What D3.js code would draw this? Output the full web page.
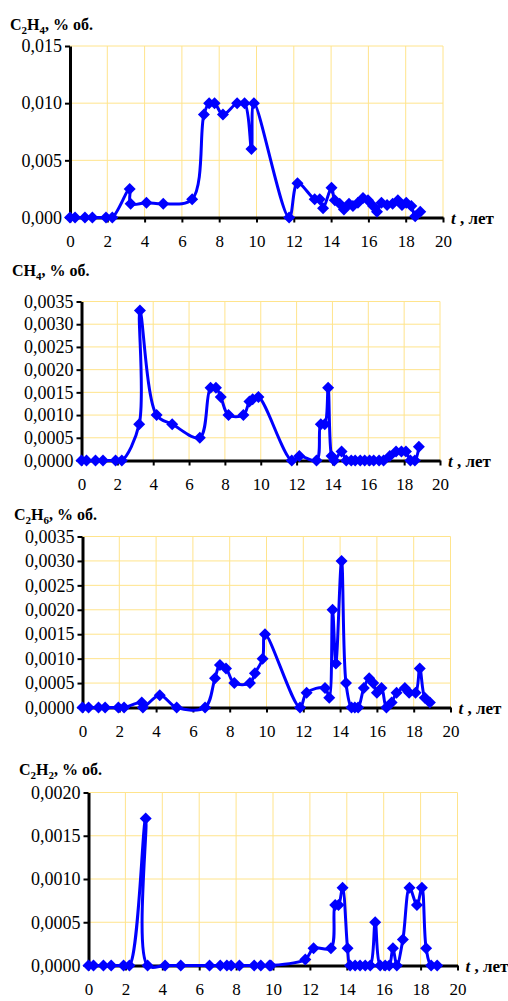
<!DOCTYPE html>
<html>
<head>
<meta charset="utf-8">
<script src="https://cdn.jsdelivr.net/npm/d3@7"></script>
<style>
  html, body { margin: 0; padding: 0; background: #fff; }
  svg { display: block; }
</style>
</head>
<body>
<div id="chart"></div>
<script>
// ---- данные (t, лет ; концентрация, % об.) ----
const xTicks = [0, 2, 4, 6, 8, 10, 12, 14, 16, 18, 20];

const tC2H4 = [0, 0.27, 0.8, 1.2, 1.93, 2.27, 3.2, 3.25, 4.1, 5.0, 6.55, 7.18, 7.46, 7.75, 8.2, 8.96, 9.36, 9.73, 9.86,
  11.75, 12.2, 13.12, 13.39, 13.57, 14.02, 14.2, 14.46, 14.69, 14.96, 15.17, 15.44, 15.71, 15.98, 16.25, 16.46, 16.7,
  17.0, 17.3, 17.58, 17.8, 18.03, 18.3, 18.51, 18.78];
const vC2H4 = [0, 0, 0, 0, 0, 0, 0.0025, 0.0012, 0.0013, 0.0012, 0.0016, 0.009, 0.010, 0.010, 0.009, 0.010, 0.010, 0.006, 0.010,
  0, 0.003, 0.0016, 0.0016, 0.0008, 0.0026, 0.0015, 0.0012, 0.0007, 0.0012, 0.001, 0.0013, 0.0017, 0.0015, 0.001, 0.0005, 0.0013,
  0.0011, 0.0012, 0.0015, 0.0011, 0.0013, 0.001, 0.0001, 0.0005];
const yTicksC2H4 = [0, 0.005, 0.010, 0.015];

const tCH4 = [0, 0.28, 0.78, 1.2, 1.9, 2.25, 3.22, 3.26, 4.19, 5.06, 6.6, 7.2, 7.5, 7.77, 8.2, 9.03, 9.37, 9.55, 9.87,
  11.73, 12.15, 13.11, 13.35, 13.57, 13.76, 13.95, 14.1, 14.51, 14.77, 15.05, 15.27, 15.55, 15.8, 16.07, 16.3, 16.6, 16.85,
  17.2, 17.55, 17.85, 18.1, 18.35, 18.6, 18.82];
const vCH4 = [0, 0, 0, 0, 0, 0, 0.0008, 0.0033, 0.001, 0.0008, 0.0005, 0.0016, 0.0016, 0.0014, 0.001, 0.001, 0.0013, 0.00135, 0.0014,
  0, 0.0001, 0, 0.0008, 0.0008, 0.0016, 0.0001, 0, 0.0002, 0, 0, 0, 0, 0, 0, 0, 0, 0,
  0.0001, 0.0002, 0.0002, 0.0002, 0, 0, 0.0003];
const yTicksCH4 = [0, 0.0005, 0.0010, 0.0015, 0.0020, 0.0025, 0.0030, 0.0035];

const tC2H6 = [0, 0.33, 0.87, 1.23, 1.95, 2.26, 3.22, 3.28, 4.2, 5.12, 6.66, 7.2, 7.47, 7.8, 8.25, 9.1, 9.37, 9.79, 9.92,
  11.82, 12.18, 13.18, 13.41, 13.59, 13.77, 14.08, 14.32, 14.62, 14.8, 14.98, 15.29, 15.58, 15.8, 16.0, 16.25,
  16.52, 16.8, 17.07, 17.52, 17.75, 18.1, 18.33, 18.6, 18.88];
const vC2H6 = [0, 0, 0, 0, 0, 0, 0.0001, 0, 0.00025, 0, 0, 0.0006, 0.00087, 0.0008, 0.0005, 0.0005, 0.0007, 0.001, 0.0015,
  0, 0.0003, 0.0004, 0.0002, 0.002, 0.0009, 0.003, 0.0005, 0, 0, 0, 0.0004, 0.0006, 0.0005, 0.0003, 0.0004,
  0, 0.0001, 0.0003, 0.0004, 0.0003, 0.0003, 0.0008, 0.0002, 0.0001];
const yTicksC2H6 = [0, 0.0005, 0.0010, 0.0015, 0.0020, 0.0025, 0.0030, 0.0035];

const tC2H2 = [0, 0.27, 0.81, 1.23, 1.9, 2.22, 3.1, 3.2, 4.15, 5.0, 6.56, 7.14, 7.5, 7.73, 8.18, 8.98, 9.34, 9.81, 9.88,
  11.75, 12.2, 13.14, 13.37, 13.55, 13.77, 14.04, 14.18, 14.45, 14.72, 15.0, 15.27, 15.54, 15.81, 16.08, 16.3, 16.5, 16.71,
  17.04, 17.4, 17.8, 18.07, 18.3, 18.57, 18.9];
const vC2H2 = [0, 0, 0, 0, 0, 0, 0.0017, 0, 0, 0, 0, 0, 0, 0, 0, 0, 0, 0, 0,
  0.00007, 0.0002, 0.0002, 0.0007, 0.0007, 0.0009, 0.0002, 0, 0, 0, 0, 0, 0.0005, 0, 0, 0, 0.0002, 0,
  0.0003, 0.0009, 0.0007, 0.0009, 0.0002, 0, 0];
const yTicksC2H2 = [0, 0.0005, 0.0010, 0.0015, 0.0020];

// ---- расположение панелей ----
const panels = [
  { title: [["C"], ["2", 1], ["H"], ["4", 1], [", % об."]], tx: 10, ty: 30,
    t: tC2H4, v: vC2H4, yTicks: yTicksC2H4, digits: 3,
    left: 70, right: 443, top: 46, bottom: 217.5 },
  { title: [["CH"], ["4", 1], [", % об."]], tx: 12, ty: 276,
    t: tCH4, v: vCH4, yTicks: yTicksCH4, digits: 4,
    left: 81.5, right: 440, top: 301.5, bottom: 460.5 },
  { title: [["C"], ["2", 1], ["H"], ["6", 1], [", % об."]], tx: 14, ty: 520,
    t: tC2H6, v: vC2H6, yTicks: yTicksC2H6, digits: 4,
    left: 82.5, right: 450.5, top: 536.5, bottom: 707.5 },
  { title: [["C"], ["2", 1], ["H"], ["2", 1], [", % об."]], tx: 19, ty: 775,
    t: tC2H2, v: vC2H2, yTicks: yTicksC2H2, digits: 4,
    left: 88.5, right: 457.5, top: 792.5, bottom: 965.5 }
];

const W = 508, H = 1001;
const serif = "'Liberation Serif', 'Times New Roman', serif";
const gridColor = "#ffe48c";
const lineColor = "#0000ff";

const svg = d3.select("#chart").append("svg")
  .attr("width", W).attr("height", H)
  .attr("viewBox", `0 0 ${W} ${H}`);

const drawPanel = (p) => {
  const x = d3.scaleLinear().domain([0, 20]).range([p.left, p.right]);
  const y = d3.scaleLinear().domain([0, d3.max(p.yTicks)]).range([p.bottom, p.top]);
  const fmt = d => d3.format(`.${p.digits}f`)(d).replace(".", ",");
  const g = svg.append("g");

  // сетка
  g.append("g").selectAll("line").data(xTicks).join("line")
    .attr("x1", d => x(d)).attr("x2", d => x(d))
    .attr("y1", p.top).attr("y2", p.bottom)
    .attr("stroke", gridColor).attr("stroke-width", 1);
  g.append("g").selectAll("line").data(p.yTicks).join("line")
    .attr("x1", p.left).attr("x2", p.right)
    .attr("y1", d => y(d)).attr("y2", d => y(d))
    .attr("stroke", gridColor).attr("stroke-width", 1);

  // оси
  const yAxis = g.append("g")
    .attr("transform", `translate(${p.left},0)`)
    .call(d3.axisLeft(y).tickValues(p.yTicks).tickFormat(fmt).tickSize(5).tickSizeOuter(0).tickPadding(3));
  const xAxis = g.append("g")
    .attr("transform", `translate(0,${p.bottom})`)
    .call(d3.axisBottom(x).tickValues(xTicks).tickFormat(d3.format("d")).tickSize(5).tickSizeOuter(0).tickPadding(12));
  [yAxis, xAxis].forEach(a => {
    a.attr("font-family", serif);
    a.select(".domain").attr("stroke", "#000").attr("stroke-width", 3);
    a.selectAll(".tick line").attr("stroke", "#000").attr("stroke-width", 2);
    a.selectAll("text").attr("fill", "#000").style("font-family", serif);
  });
  yAxis.selectAll("text").style("font-size", "18px");
  xAxis.selectAll("text").style("font-size", "17px");

  // подпись оси t
  const tl = g.append("text")
    .attr("x", p.right + 8).attr("y", p.bottom + 6)
    .style("font-family", serif).style("font-size", "17px").style("font-weight", "bold");
  tl.append("tspan").style("font-style", "italic").text("t");
  tl.append("tspan").text(" , лет");

  // заголовок
  const tt = g.append("text")
    .attr("x", p.tx).attr("y", p.ty)
    .style("font-family", serif).style("font-size", "16px").style("font-weight", "bold");
  let shifted = false;
  p.title.forEach(([s, sub]) => {
    const ts = tt.append("tspan").text(s);
    if (sub && !shifted) { ts.attr("dy", 4).style("font-size", "11px"); shifted = true; }
    else if (sub) { ts.style("font-size", "11px"); }
    else if (shifted) { ts.attr("dy", -4); shifted = false; }
  });

  // ряд
  const pts = p.t.map((t, i) => ({ t, v: p.v[i] }));
  const line = d3.line().x(d => x(d.t)).y(d => y(d.v)).curve(d3.curveCatmullRom.alpha(0.5));
  g.append("path").datum(pts).attr("d", line)
    .attr("fill", "none").attr("stroke", lineColor).attr("stroke-width", 3)
    .attr("stroke-linejoin", "round");

  const marker = d3.symbol().type(d3.symbolSquare).size(72);
  g.append("g").selectAll("path").data(pts).join("path")
    .attr("d", marker)
    .attr("transform", d => `translate(${x(d.t)},${y(d.v)}) rotate(45)`)
    .attr("fill", lineColor);
};

panels.forEach(drawPanel);
</script>
</body>
</html>
